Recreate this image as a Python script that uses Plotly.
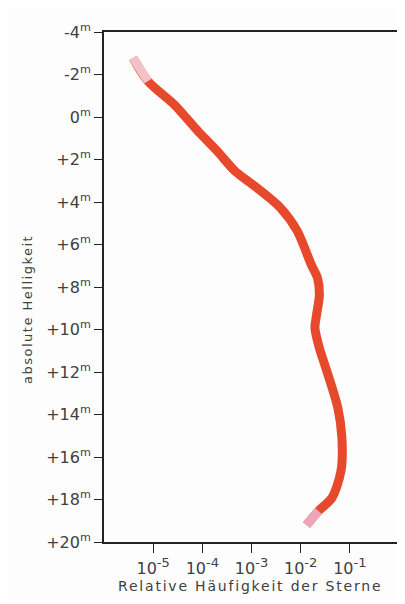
import plotly.graph_objects as go

# Data
magnitude = [-2.78, -1.69, -0.56, 0.66, 1.60, 2.54, 3.34, 4.28, 5.36, 6.96, 7.58, 8.38,
             9.32, 9.93, 10.87, 11.67, 13.69, 15.11, 16.66, 17.93, 18.54, 19.20]
frequency = [3.9e-6, 7.8e-6, 2.75e-5, 8.1e-5, 2.0e-4, 4.6e-4, 1.3e-3, 3.9e-3, 8.5e-3,
             0.0165, 0.022, 0.024, 0.021, 0.0195, 0.024, 0.031, 0.057, 0.069, 0.066,
             0.043, 0.023, 0.0132]

y_ticks = [-4, -2, 0, 2, 4, 6, 8, 10, 12, 14, 16, 18, 20]
y_ticktext = ["-4<sup>m</sup>", "-2<sup>m</sup>", "0<sup>m</sup>", "+2<sup>m</sup>",
              "+4<sup>m</sup>", "+6<sup>m</sup>", "+8<sup>m</sup>", "+10<sup>m</sup>",
              "+12<sup>m</sup>", "+14<sup>m</sup>", "+16<sup>m</sup>", "+18<sup>m</sup>",
              "+20<sup>m</sup>"]
x_ticks = [1e-5, 1e-4, 1e-3, 1e-2, 1e-1]
x_exponents = ["-5", "-4", "-3", "-2", "-1"]
x_ticktext = ["10<sup><span style='font-size:13px'>%s</span></sup>" % e for e in x_exponents]

x_title = "Relative Häufigkeit der Sterne"
y_title = "absolute Helligkeit"

font_family = "'DejaVu Sans', Verdana, sans-serif"
ink = "#404040"
red = "#e6492b"

W, H = 405, 604
L, R, T, B = 96, 14, 24, 70
plot_w = W - L - R
plot_h = H - T - B

fig = go.Figure()
# main curve
fig.add_trace(go.Scatter(x=frequency, y=magnitude, mode="lines",
                         line=dict(color=red, width=9, shape="spline", smoothing=0.8),
                         showlegend=False))
# faded top end
fig.add_trace(go.Scatter(x=frequency[:2], y=magnitude[:2], mode="lines",
                         line=dict(color="#f2c2c8", width=9),
                         hoverinfo="skip", showlegend=False))
# faded bottom end
fig.add_trace(go.Scatter(x=frequency[-2:], y=magnitude[-2:], mode="lines",
                         line=dict(color="#eda6bb", width=9),
                         hoverinfo="skip", showlegend=False))

fig.update_layout(
    width=W, height=H,
    margin=dict(l=L, r=R, t=T, b=B),
    paper_bgcolor="#fdfdfd", plot_bgcolor="#fdfdfd",
    font=dict(family=font_family, color=ink, size=15),
    showlegend=False,
    annotations=[dict(text="<span style='letter-spacing:1.5px'>%s</span>" % y_title,
                      x=(19 - L) / plot_w, y=(H - B - 302) / plot_h,
                      xref="paper", yref="paper", xanchor="center", yanchor="middle",
                      showarrow=False, textangle=-90, font=dict(size=13, color=ink)),
                 dict(text="<span style='letter-spacing:1.8px'>%s</span>" % x_title,
                      x=(242 - L) / plot_w, y=-(588 - (H - B)) / plot_h,
                      xref="paper", yref="paper", xanchor="center", yanchor="bottom",
                      showarrow=False, font=dict(size=14, color=ink))],
)

fig.update_xaxes(
    type="log", range=[-6, 0],
    tickvals=x_ticks, ticktext=x_ticktext,
    ticks="outside", ticklen=9, tickwidth=1.2, tickcolor="#222",
    ticklabelstandoff=2,
    showline=True, linecolor="#222", linewidth=2, mirror=True,
    showgrid=False, zeroline=False,
    tickfont=dict(size=16, color=ink),
)
fig.update_yaxes(
    range=[20, -4],
    tickvals=y_ticks, ticktext=y_ticktext,
    ticks="outside", ticklen=8, tickwidth=1.2, tickcolor="#222",
    showline=True, linecolor="#222", linewidth=2, mirror=True,
    showgrid=False, zeroline=False,
    tickfont=dict(size=16, color=ink),
)

fig.write_html("out.html")
